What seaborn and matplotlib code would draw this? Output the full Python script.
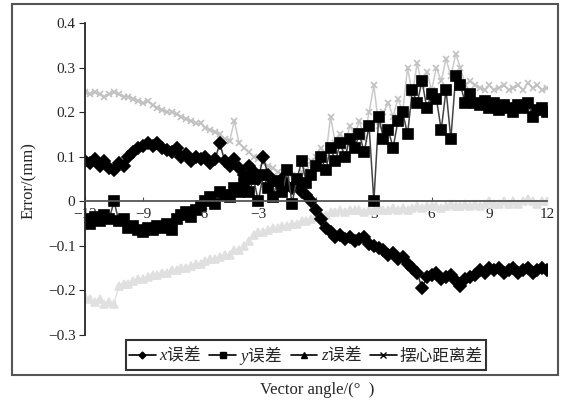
import numpy as np
import pandas as pd
import seaborn as sns
import matplotlib.pyplot as plt
from matplotlib.lines import Line2D
from matplotlib.patches import Rectangle

# angle grid (deg) and the four error curves
angles = np.arange(-12, 12.01, 0.25)

x_err = [0.09, 0.085, 0.095, 0.08, 0.09, 0.075, 0.07, 0.085, 0.08,
         0.1, 0.11, 0.12, 0.125, 0.13, 0.125, 0.13, 0.12,
         0.115, 0.11, 0.12, 0.1, 0.105, 0.09, 0.1, 0.095,
         0.1, 0.085, 0.095, 0.13, 0.09, 0.08, 0.095, 0.075,
         0.06, 0.08, 0.065, 0.05, 0.1, 0.06, 0.045, 0.04,
         0.05, 0.035, 0.03, 0.04, 0.02, 0.015, 0.0, -0.02,
         -0.04, -0.06, -0.07, -0.08, -0.075, -0.085, -0.08, -0.09,
         -0.085, -0.08, -0.095, -0.1, -0.105, -0.11, -0.12, -0.115,
         -0.13, -0.125, -0.14, -0.15, -0.16, -0.195, -0.17, -0.165,
         -0.16, -0.175, -0.17, -0.165, -0.18, -0.19, -0.175, -0.17,
         -0.165, -0.155, -0.16, -0.15, -0.155, -0.15, -0.16, -0.155,
         -0.15, -0.16, -0.155, -0.15, -0.16, -0.155, -0.15, -0.155]

y_err = [-0.04, -0.05, -0.035, -0.045, -0.03, -0.04, 0.0, -0.045, -0.04,
         -0.06, -0.055, -0.065, -0.07, -0.06, -0.065, -0.055, -0.06,
         -0.05, -0.065, -0.04, -0.03, -0.025, -0.035, -0.02, -0.01,
         0.0, 0.01, -0.005, 0.02, 0.015, 0.01, 0.03, 0.02,
         0.04, 0.02, 0.05, 0.0, 0.06, 0.03, 0.01, 0.045,
         0.02, 0.07, -0.005, 0.05, 0.09, 0.04, 0.06, 0.08,
         0.1, 0.07, 0.12, 0.09, 0.13, 0.1, 0.14, 0.12,
         0.15, 0.11, 0.17, 0.0, 0.19, 0.14, 0.16, 0.12,
         0.18, 0.2, 0.15, 0.25, 0.22, 0.27, 0.21, 0.24,
         0.23, 0.16, 0.25, 0.14, 0.28, 0.26, 0.22, 0.24,
         0.22, 0.215, 0.225, 0.21, 0.22, 0.205, 0.215, 0.21,
         0.2, 0.215, 0.21, 0.22, 0.19, 0.205, 0.21, 0.2]

z_err = [-0.215, -0.22, -0.225, -0.22, -0.23, -0.225, -0.23, -0.19, -0.185,
         -0.185, -0.18, -0.175, -0.175, -0.17, -0.165, -0.165, -0.16,
         -0.16, -0.155, -0.155, -0.15, -0.15, -0.145, -0.14, -0.14,
         -0.135, -0.13, -0.13, -0.125, -0.12, -0.12, -0.11, -0.11,
         -0.1, -0.09, -0.075, -0.07, -0.07, -0.065, -0.06, -0.06,
         -0.055, -0.055, -0.05, -0.05, -0.045, -0.045, -0.04, -0.035,
         -0.03, -0.03, -0.025, -0.025, -0.02, -0.025, -0.02, -0.02,
         -0.02, -0.025, -0.02, -0.02, -0.015, -0.02, -0.02, -0.015,
         -0.02, -0.015, -0.02, -0.015, -0.01, -0.015, -0.01, -0.01,
         -0.01, -0.015, -0.01, -0.005, -0.01, -0.01, -0.005, -0.01,
         -0.005, -0.01, -0.005, 0.0, -0.005, -0.005, 0.0, -0.005,
         0.0, -0.005, 0.0, 0.005, 0.0, -0.005, 0.0, 0.0]

dist_err = [0.245, 0.24, 0.245, 0.24, 0.235, 0.24, 0.245, 0.24, 0.235,
            0.235, 0.23, 0.225, 0.22, 0.225, 0.215, 0.21, 0.205,
            0.2, 0.2, 0.195, 0.19, 0.185, 0.18, 0.175, 0.175,
            0.165, 0.16, 0.155, 0.15, 0.14, 0.135, 0.18, 0.13,
            0.12, 0.11, 0.1, 0.095, 0.085, 0.08, 0.075, 0.065,
            0.06, 0.055, 0.06, 0.05, 0.065, 0.07, 0.09, 0.1,
            0.12, 0.1, 0.19, 0.13, 0.15, 0.12, 0.17, 0.15,
            0.18, 0.14, 0.2, 0.26, 0.17, 0.2, 0.22, 0.19,
            0.23, 0.2, 0.3, 0.24, 0.31, 0.26, 0.29, 0.25,
            0.3, 0.27, 0.32, 0.28, 0.33, 0.3, 0.26, 0.27,
            0.26, 0.255, 0.25, 0.26, 0.25, 0.255, 0.26, 0.25,
            0.255, 0.26, 0.25, 0.265, 0.255, 0.26, 0.25, 0.255]

series_labels = ['$x$误差', '$y$误差', '$z$误差', '摆心距离差']
x_ticks = [-12, -9, -6, -3, 0, 3, 6, 9, 12]
x_ticklabels = ['\u221212', '\u22129', '\u22126', '\u22123', '0', '3', '6', '9', '12']
y_ticks = [-0.3, -0.2, -0.1, 0, 0.1, 0.2, 0.3, 0.4]
y_ticklabels = ['\u22120.3', '\u22120.2', '\u22120.1', '0', '0.1', '0.2', '0.3', '0.4']

sns.set_style('ticks')
plt.rcParams['font.family'] = ['Liberation Serif', 'Noto Sans CJK SC']
plt.rcParams['mathtext.fontset'] = 'custom'
plt.rcParams['mathtext.it'] = 'Liberation Serif:italic'
plt.rcParams['mathtext.rm'] = 'Liberation Serif'

fig = plt.figure(figsize=(5.64, 4.11), dpi=100)
ax = fig.add_axes([0.151, 0.185, 0.819, 0.759])

# (values, marker, marker colour, line colour, marker size)
styles = [
    (dist_err, 'x', '#c0c0c0', '#cacaca', 4.5),
    (z_err, '^', '#e0e0e0', '#e4e4e4', 6),
    (x_err, 'D', 'black', '#333333', 6),
    (y_err, 's', 'black', '#444444', 6.5),
]
for vals, mk, mc, lc, ms in styles:
    df = pd.DataFrame({'angle': angles, 'err': vals})
    sns.lineplot(data=df, x='angle', y='err', ax=ax, color=lc, lw=1.1,
                 marker=mk, markersize=ms, markerfacecolor=mc,
                 markeredgecolor=mc, markeredgewidth=1.2, estimator=None)

ax.set_xlim(-12, 12)
ax.set_ylim(-0.3, 0.4)
ax.set_xticks(x_ticks)
ax.set_xticklabels(x_ticklabels)
ax.set_yticks(y_ticks)
ax.set_yticklabels(y_ticklabels)
ax.set_xlabel('')
ax.set_ylabel('')
ax.spines['top'].set_visible(False)
ax.spines['right'].set_visible(False)
ax.spines['bottom'].set_position(('data', 0))
ax.spines['bottom'].set_color('#555555')
ax.spines['bottom'].set_linewidth(1.3)
ax.spines['left'].set_linewidth(1.3)
ax.tick_params(axis='x', direction='in', length=3, pad=5, labelsize=11,
               color='#555555')
ax.tick_params(axis='y', direction='out', length=4, pad=3, labelsize=11)

fig.text(0.052, 1 - 181 / 411, 'Error/(mm)', rotation=90, ha='center',
         va='center', fontsize=12)
fig.text(317 / 564, 1 - 390 / 411, 'Vector angle/(\u00b0  )', ha='center',
         va='center', fontsize=12)

handles = [Line2D([], [], color='black', lw=1.2, marker=m, markersize=s)
           for m, s in [('D', 3.5), ('s', 5), ('^', 5), ('x', 5)]]
leg = fig.legend(handles, series_labels, loc='center',
                 bbox_to_anchor=(306 / 564, 1 - 355 / 411), ncol=4,
                 frameon=True, fancybox=False, handlelength=1.6,
                 handletextpad=0.2, columnspacing=0.5, borderpad=0.2,
                 prop={'family': 'Noto Sans CJK SC', 'size': 12})
leg.get_frame().set_edgecolor('black')
leg.get_frame().set_linewidth(1.5)

fig.patches.append(Rectangle((12 / 564, 1 - 375 / 411), 546 / 564, 371 / 411,
                             transform=fig.transFigure, fill=False,
                             edgecolor='#555555', lw=1.5))

fig.savefig('out.png', dpi=100)
